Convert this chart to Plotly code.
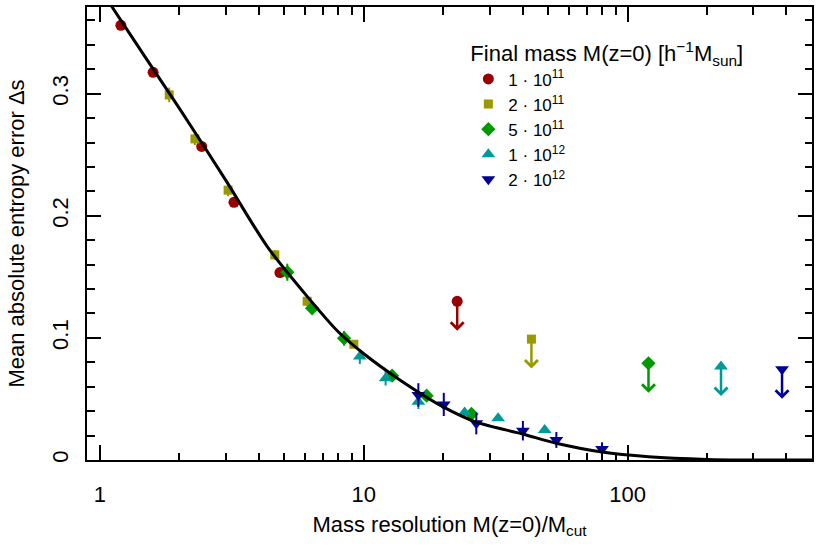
import numpy as np
import plotly.graph_objects as go

# ---- data ----
# fitted curve
curve_x = [1.0, 1.12, 1.5, 2.0, 3.0, 4.3, 6.1, 8.0, 10, 13.7, 20, 26.7, 40, 53.7, 80, 120, 200, 300, 500]
curve_y = [0.387, 0.370, 0.3285, 0.288, 0.229, 0.175, 0.134, 0.105, 0.087, 0.0656, 0.0435, 0.031, 0.0213, 0.0137, 0.0065, 0.0027, 0.0005, 0.0, 0.0]

series_names = ["1 · 10<sup>11</sup>", "2 · 10<sup>11</sup>", "5 · 10<sup>11</sup>",
                "1 · 10<sup>12</sup>", "2 · 10<sup>12</sup>"]
series_colors = ["#990000", "#999900", "#009900", "#009999", "#000099"]
series_symbols = ["circle", "square", "diamond", "triangle-up", "triangle-down"]
series_sizes = [11, 9, 11, 12, 12]

m1e11_x = [1.20, 1.59, 2.43, 3.22, 4.81]
m1e11_y = [0.356, 0.3175, 0.2568, 0.211, 0.1535]
m1e11_e = [0.002, 0.002, 0.002, 0.002, 0.002]

m2e11_x = [1.83, 2.29, 3.06, 4.60, 6.1, 9.17]
m2e11_y = [0.299, 0.263, 0.221, 0.168, 0.130, 0.0948]
m2e11_e = [0.006, 0.005, 0.005, 0.004, 0.004, 0.003]

m5e11_x = [5.13, 6.37, 8.42, 12.8, 17.3, 25.6]
m5e11_y = [0.1538, 0.1243, 0.0997, 0.0691, 0.0527, 0.0377]
m5e11_e = [0.007, 0.004, 0.006, 0.004, 0.004, 0.003]

m1e12_x = [9.66, 12.1, 16.1, 24.1, 32.3, 48.5]
m1e12_y = [0.0847, 0.067, 0.0478, 0.0388, 0.0342, 0.0246]
m1e12_e = [0.006, 0.006, 0.006, 0.003, 0.002, 0.002]

m2e12_x = [16.1, 20.1, 26.7, 40.1, 53.7, 80]
m2e12_y = [0.0533, 0.0455, 0.030, 0.024, 0.0164, 0.009]
m2e12_e = [0.0096, 0.0095, 0.009, 0.008, 0.0065, 0.0055]

# upper limits (one per series)
ul_x = [22.6, 43.2, 120, 226, 385]
ul_y = [0.130, 0.099, 0.0792, 0.0765, 0.0743]

x_tickvals = [1, 10, 100]
x_ticktext = ["1", "10", "100"]
x_minor = [2, 3, 4, 5, 6, 7, 8, 9, 20, 30, 40, 50, 60, 70, 80, 90, 200, 300, 400, 500]
y_tickvals = [0, 0.1, 0.2, 0.3]
y_ticktext = ["0", "0.1", "0.2", "0.3"]

series_x = [m1e11_x, m2e11_x, m5e11_x, m1e12_x, m2e12_x]
series_y = [m1e11_y, m2e11_y, m5e11_y, m1e12_y, m2e12_y]
series_e = [m1e11_e, m2e11_e, m5e11_e, m1e12_e, m2e12_e]

FONT = "Liberation Sans, Arial, Helvetica, sans-serif"

fig = go.Figure()
for i in range(5):
    fig.add_trace(go.Scatter(
        x=series_x[i], y=series_y[i], mode="markers", name=series_names[i],
        marker=dict(symbol=series_symbols[i], size=series_sizes[i], color=series_colors[i]),
        error_y=dict(type="data", array=series_e[i], visible=True, color=series_colors[i],
                     thickness=2, width=0),
    ))
    fig.add_trace(go.Scatter(
        x=[ul_x[i]], y=[ul_y[i]], mode="markers", showlegend=False,
        marker=dict(symbol=series_symbols[i], size=series_sizes[i], color=series_colors[i]),
    ))
    fig.add_annotation(
        x=np.log10(ul_x[i]), y=ul_y[i], xref="x", yref="y", text="",
        showarrow=True, ax=0, ay=31, arrowside="start", startarrowhead=4,
        startarrowsize=1.0, arrowwidth=2.5, arrowcolor=series_colors[i],
    )

fig.add_trace(go.Scatter(
    x=curve_x, y=curve_y, mode="lines", showlegend=False,
    line=dict(color="black", width=3, shape="spline", smoothing=0.8),
))

axis_common = dict(
    showline=True, linecolor="black", linewidth=2, mirror="ticks",
    ticks="inside", tickcolor="black", tickwidth=1.5, showgrid=False, zeroline=False,
    tickfont=dict(family=FONT, size=22, color="black"),
)

fig.update_xaxes(
    type="log", range=[np.log10(0.893), np.log10(500)],
    tickmode="array", tickvals=x_tickvals, ticktext=x_ticktext, ticklen=15,
    minor=dict(tickmode="array", tickvals=x_minor, ticks="inside", ticklen=7.5,
               tickcolor="black", tickwidth=1.5, showgrid=False),
    ticklabelstandoff=14,
    title=dict(text="Mass resolution M(z=0)/M<sub>cut</sub>",
               font=dict(family=FONT, size=22, color="black"), standoff=10),
    **axis_common,
)
fig.update_yaxes(
    range=[0, 0.371], tickmode="array", tickvals=y_tickvals, ticktext=y_ticktext,
    ticklen=14, tickangle=-90,
    minor=dict(dtick=0.02, tick0=0, ticks="inside", ticklen=7.5,
               tickcolor="black", tickwidth=1.5, showgrid=False),
    ticklabelstandoff=8,
    title=dict(text="Mean absolute entropy error Δs",
               font=dict(family=FONT, size=22, color="black"), standoff=18),
    **axis_common,
)

fig.update_layout(
    width=824, height=549,
    margin=dict(l=87, r=12, t=7, b=89, autoexpand=False),
    plot_bgcolor="white", paper_bgcolor="white",
    font=dict(family=FONT, size=22, color="black"),
    legend=dict(
        x=0.526, y=0.943, xanchor="left", yanchor="top",
        bgcolor="rgba(0,0,0,0)", borderwidth=0, tracegroupgap=0,
        font=dict(family=FONT, size=17, color="black"),
        title=dict(text="Final mass M(z=0) [h<sup>−1</sup>M<sub>sun</sub>]",
                   font=dict(family=FONT, size=22, color="black")),
    ),
)

fig.write_html("out.html", config={"displayModeBar": False},
               post_script="document.body.style.margin='0';")
